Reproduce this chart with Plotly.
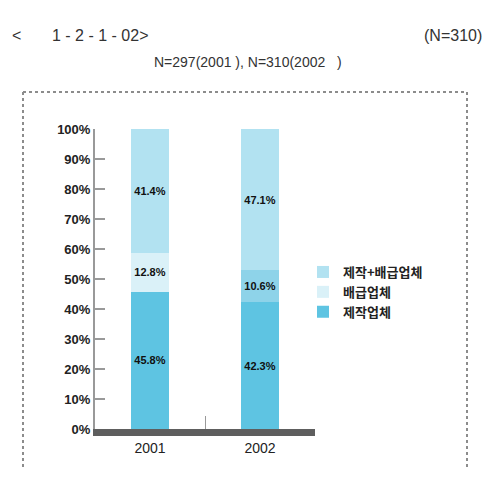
import plotly.graph_objects as go

# survey years and share (%) per company type
years = ["2001", "2002"]
production = [45.8, 42.3]          # 제작업체
distribution = [12.8, 10.6]        # 배급업체
prod_and_dist = [41.4, 47.1]       # 제작+배급업체

series_names = ["제작업체", "배급업체", "제작+배급업체"]
y_ticks = [0, 10, 20, 30, 40, 50, 60, 70, 80, 90, 100]
y_tick_text = [f"{v}%" for v in y_ticks]

# the page body adds an 8px margin, so the figure is drawn 8px smaller
# and every position below is given in window pixels minus that margin
page_margin = 8
fig_w, fig_h = 493 - page_margin, 485 - page_margin


def win(p):
    return p - page_margin


plot_left, plot_right = win(95), win(315)
plot_top, plot_bottom = win(129), win(429)


def px_x(px):
    return (win(px) - plot_left) / (plot_right - plot_left)


def px_y(py):
    return (plot_bottom - win(py)) / (plot_bottom - plot_top)


bar_font = dict(family="Liberation Sans", size=11, color="#111111", weight="bold")


def bar_trace(name, values, colors):
    return go.Bar(
        x=years, y=values, name=name, width=0.34,
        marker=dict(color=colors, line=dict(width=0)),
        texttemplate="%{y:.1f}%", textposition="inside", insidetextanchor="middle",
        textangle=0, textfont=bar_font, cliponaxis=False,
    )


fig = go.Figure()
fig.add_trace(bar_trace(series_names[0], production, "#5ec4e2"))
fig.add_trace(bar_trace(series_names[1], distribution, ["#daf1f8", "#8ed3e9"]))
fig.add_trace(bar_trace(series_names[2], prod_and_dist, "#b2e2f1"))

fig.update_layout(
    width=fig_w, height=fig_h,
    barmode="stack",
    plot_bgcolor="white", paper_bgcolor="white",
    margin=dict(l=plot_left, r=fig_w - plot_right, t=plot_top, b=fig_h - plot_bottom, pad=0),
    font=dict(family="Liberation Sans", color="#222222"),
    showlegend=True,
    legend=dict(x=px_x(303), y=px_y(257), xanchor="left", yanchor="top",
                traceorder="reversed", bgcolor="rgba(0,0,0,0)",
                font=dict(family="Noto Sans CJK KR", size=13, color="#222222", weight="bold")),
)

fig.update_yaxes(
    range=[0, 100], tickvals=y_ticks, ticktext=y_tick_text,
    showgrid=False, zeroline=False,
    showline=True, linecolor="#999999", linewidth=2,
    ticks="inside", ticklen=10, tickcolor="#999999", tickwidth=2,
    tickfont=dict(family="Liberation Sans", size=13, color="#222222", weight="bold"),
)
fig.update_xaxes(
    showgrid=False, zeroline=False,
    showline=True, linecolor="#5e5e5e", linewidth=7,
    tickson="boundaries", ticks="inside", ticklen=13, tickcolor="#999999", tickwidth=1,
    tickfont=dict(family="Liberation Sans", size=14, color="#222222"),
)

# dotted frame around chart area (top, left, right)
frame = dict(type="line", xref="paper", yref="paper",
             line=dict(color="#8c8c8c", width=2, dash="dot"))
fig.add_shape(**frame, x0=px_x(23), x1=px_x(467), y0=px_y(92), y1=px_y(92))
fig.add_shape(**frame, x0=px_x(23), x1=px_x(23), y0=px_y(92), y1=px_y(470))
fig.add_shape(**frame, x0=px_x(467), x1=px_x(467), y0=px_y(92), y1=px_y(470))

title_font = dict(family="Liberation Sans", size=16, color="#333333")
fig.add_annotation(text="<", x=px_x(10), y=px_y(36), xref="paper", yref="paper",
                   xanchor="left", yanchor="middle", showarrow=False, font=title_font)
fig.add_annotation(text="1 - 2 - 1 - 02>", x=px_x(50), y=px_y(36), xref="paper", yref="paper",
                   xanchor="left", yanchor="middle", showarrow=False, font=title_font)
fig.add_annotation(text="(N=310)", x=px_x(484), y=px_y(36), xref="paper", yref="paper",
                   xanchor="right", yanchor="middle", showarrow=False, font=title_font)
fig.add_annotation(text="N=297(2001 ), N=310(2002   )", x=px_x(248), y=px_y(62),
                   xref="paper", yref="paper", xanchor="center", yanchor="middle",
                   showarrow=False, font=dict(family="Liberation Sans", size=14, color="#333333"))

fig.write_html("out.html")
